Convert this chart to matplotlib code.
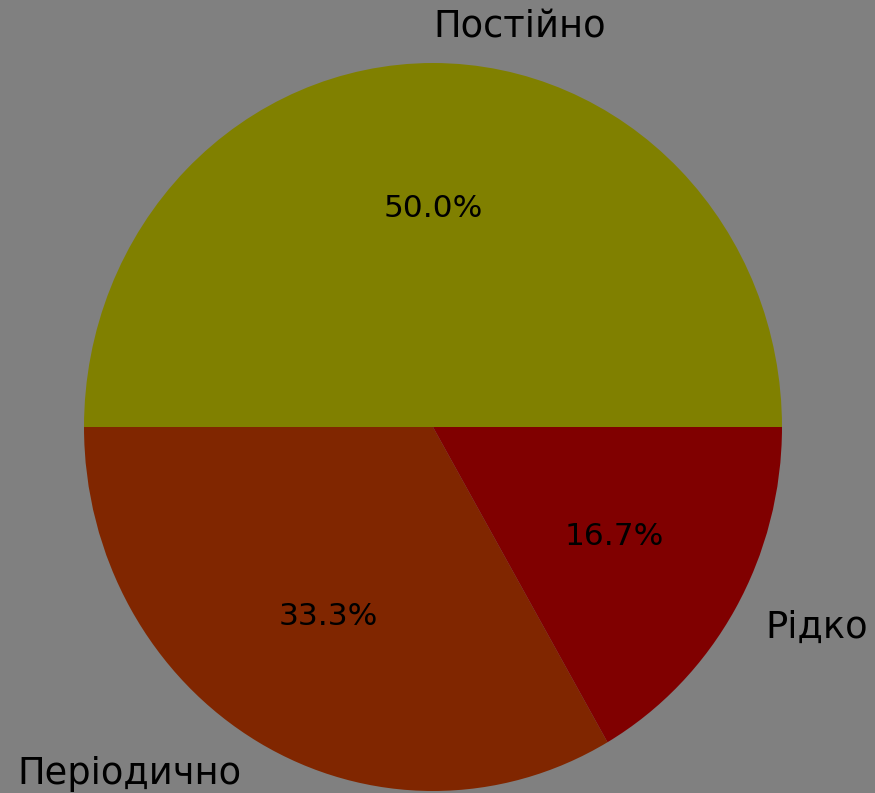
import matplotlib.pyplot as plt

labels = ["Постійно", "Періодично", "Рідко"]
values = [3, 2, 1]
colors = ["#808000", "#802600", "#800000"]

fig = plt.figure(figsize=(8.75, 7.93), dpi=100, facecolor="#808080")
ax = fig.add_axes([0, 0, 1, 1])
ax.set_facecolor("#808080")

wedges, texts, autotexts = ax.pie(values, labels=labels, colors=colors,
                                  autopct="%1.1f%%",
                                  textprops={"color": "black"})
for t in texts:
    t.set_fontsize(26.5)
for t in autotexts:
    t.set_fontsize(22.5)
texts[0].set_ha("left")

# the pie in the picture is slightly stretched vertically
ax.set_aspect("auto")
ax.set_xlim(-1.2407, 1.2665)
ax.set_ylim(-1.0055, 1.1731)

fig.savefig("out.png", dpi=100, facecolor=fig.get_facecolor())
